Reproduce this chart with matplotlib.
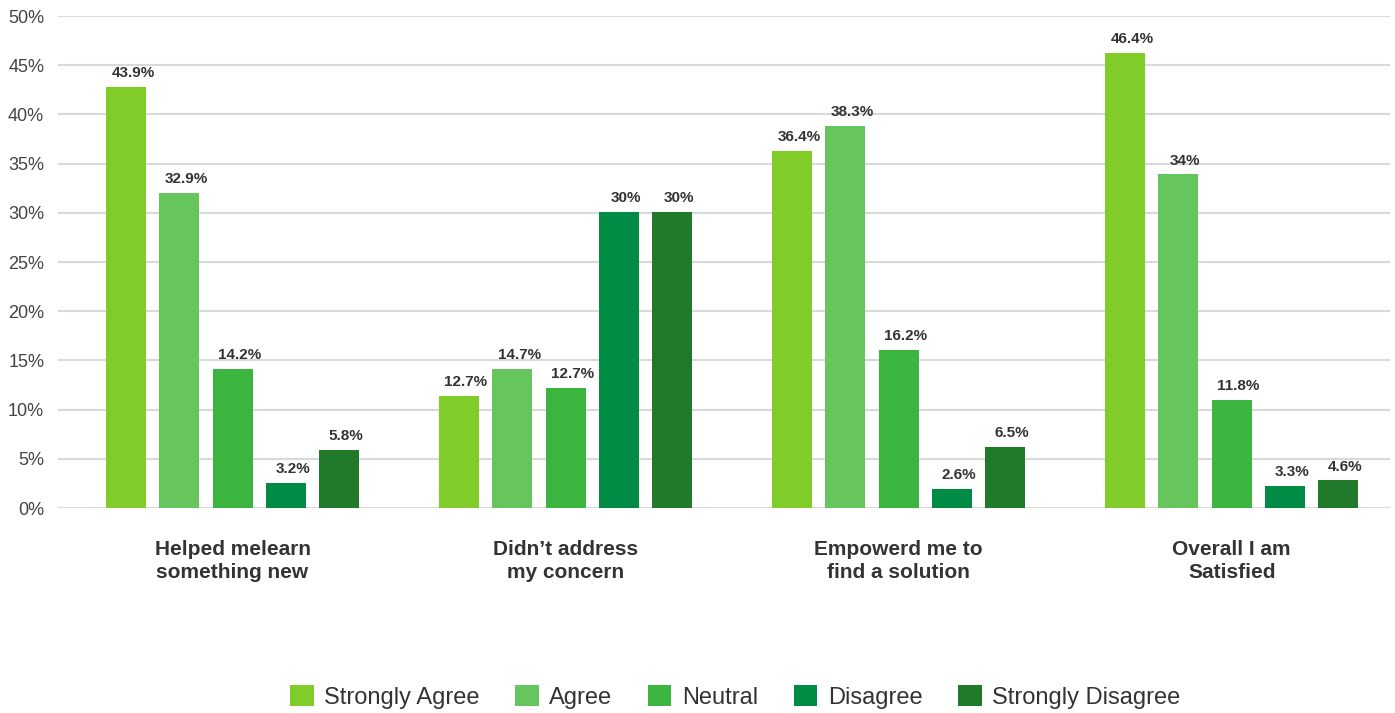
import matplotlib.pyplot as plt
import numpy as np

plt.rcParams['font.family'] = ['Liberation Sans', 'DejaVu Sans']

# Survey data
categories = ['Helped melearn\nsomething new', 'Didn\u2019t address\nmy concern',
              'Empowerd me to\nfind a solution', 'Overall I am\nSatisfied']
responses = ['Strongly Agree', 'Agree', 'Neutral', 'Disagree', 'Strongly Disagree']

# bar heights as drawn (%), one list per response
strongly_agree = [42.8, 11.4, 36.3, 46.2]
agree = [32.0, 14.1, 38.8, 33.9]
neutral = [14.1, 12.2, 16.1, 11.0]
disagree = [2.5, 30.1, 1.9, 2.2]
strongly_disagree = [5.9, 30.1, 6.2, 2.8]

# printed labels
sa_labels = ['43.9%', '12.7%', '36.4%', '46.4%']
a_labels = ['32.9%', '14.7%', '38.3%', '34%']
n_labels = ['14.2%', '12.7%', '16.2%', '11.8%']
d_labels = ['3.2%', '30%', '2.6%', '3.3%']
sd_labels = ['5.8%', '30%', '6.5%', '4.6%']

colors = ['#80cc28', '#66c55c', '#3bb53f', '#008c44', '#217a2a']

series = [strongly_agree, agree, neutral, disagree, strongly_disagree]
series_labels = [sa_labels, a_labels, n_labels, d_labels, sd_labels]

fig = plt.figure(figsize=(13.95, 7.13), dpi=100)
ax = fig.add_axes([0.0416, 0.2875, 0.955, 0.69])

x = np.arange(len(categories))
width = 0.12
step = 0.16

for i, (vals, labs) in enumerate(zip(series, series_labels)):
    pos = x + (i - 2) * step
    bars = ax.bar(pos, vals, width=width, color=colors[i], label=responses[i], zorder=3)
    for b, lab in zip(bars, labs):
        ax.annotate(lab, (b.get_x() + b.get_width() / 2, b.get_height()),
                    xytext=(5, 5), textcoords='offset points',
                    ha='center', va='bottom', fontsize=11, fontweight='bold',
                    color='#333333')

ax.set_xlim(-0.524, 3.476)
ax.set_ylim(0, 50)
ax.set_yticks(np.arange(0, 51, 5))
ax.set_yticklabels([f'{v}%' for v in range(0, 51, 5)])
ax.set_xticks(x)
ax.set_xticklabels(categories, fontsize=15, fontweight='bold', color='#333333',
                   linespacing=1.25)
ax.tick_params(axis='x', length=0, pad=23)
ax.tick_params(axis='y', length=0, pad=10, labelsize=13, labelcolor='#444444')
ax.grid(axis='y', color='#d9d9d9', linewidth=1.5, zorder=0)
for s in ax.spines.values():
    s.set_visible(False)

fig.legend(loc='lower center', bbox_to_anchor=(0.527, -0.024), ncol=5, frameon=False,
           fontsize=17, handlelength=1.0, handleheight=1.0, handletextpad=0.45,
           columnspacing=1.5, labelcolor='#333333')

fig.savefig('out.png', dpi=100)
